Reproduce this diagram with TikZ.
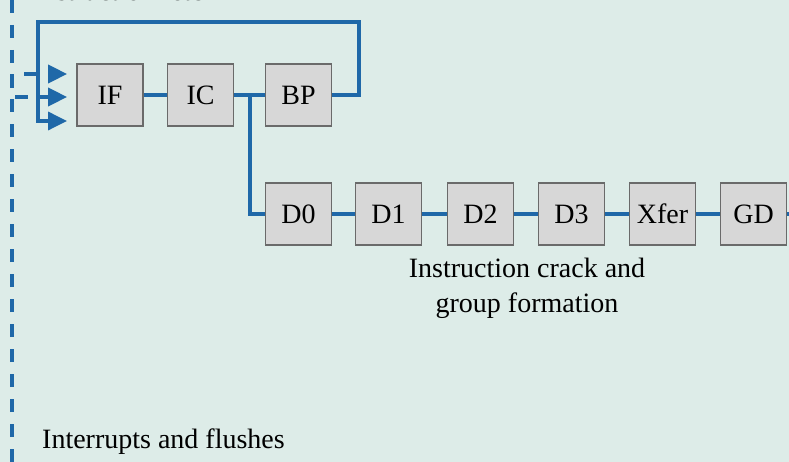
\documentclass[tikz,border=0pt]{standalone}
\usepackage{fontspec}
\setmainfont{Liberation Serif}
\usetikzlibrary{arrows.meta}
\definecolor{bgc}{HTML}{DDECE8}
\definecolor{boxfill}{HTML}{D7D7D7}
\definecolor{boxline}{HTML}{6A6A6A}
\definecolor{flow}{HTML}{1F68A8}
\begin{document}
\begin{tikzpicture}[x=1pt,y=-1pt,
  stage/.style={draw=boxline,line width=1.8pt,fill=boxfill,minimum width=66pt,minimum height=62pt,inner sep=0pt,font=\fontsize{28}{34}\selectfont},
  link/.style={draw=flow,line width=3.2pt},
  flush/.style={draw=flow,line width=3.8pt,dash pattern=on 13pt off 12pt},
  tip/.style={-{Triangle[length=19pt,width=18pt]}},
  lbl/.style={font=\fontsize{28}{35}\selectfont,inner sep=0pt}]
\fill[bgc] (0,0) rectangle (789,462);
\useasboundingbox (0,0) rectangle (789,462);
% top row
\node[stage] (IF) at (110,95) {IF};
\node[stage] (IC) at (200.5,95) {IC};
\node[stage] (BP) at (298.5,95) {BP};
% decode row
\node[stage] (D0) at (298.5,214) {D0};
\node[stage] (D1) at (388.5,214) {D1};
\node[stage] (D2) at (480.5,214) {D2};
\node[stage] (D3) at (571.5,214) {D3};
\node[stage] (XF) at (662.5,214) {Xfer};
\node[stage] (GD) at (753.5,214) {GD};
\coordinate (out) at (789,214);
% labels
\node[lbl,anchor=base west] (t1) at (33,0.5) {Instruction fetch};
\node[lbl,anchor=north,align=center] (t2) at (527,258) {Instruction crack and\\group formation};
\node[lbl,anchor=base west] (t3) at (42,448) {Interrupts and flushes};
% connectors
\draw[link] (IF) -- (IC);
\draw[link] (IC) -- (BP);
\coordinate (br) at (250,95);
\draw[link] (br) |- (D0);
\draw[link] (D0) -- (D1);
\draw[link] (D1) -- (D2);
\draw[link] (D2) -- (D3);
\draw[link] (D3) -- (XF);
\draw[link] (XF) -- (GD);
\draw[link] (GD) -- (out);
% loop back
\coordinate (lpA) at (359,22);
\coordinate (lpB) at (38,22);
\draw[link,tip] (BP.east) -| (lpA) -- (lpB) |- ([xshift=-9pt,yshift=-26pt]IF.west);
% flush lines
\coordinate (ftop) at (12,0);
\coordinate (fbot) at (12,462);
\draw[flush,tip] (ftop) |- ([xshift=-9pt,yshift=-2pt]IF.west);
\draw[flush,tip] (fbot) |- ([xshift=-9pt,yshift=21pt]IF.west);
\end{tikzpicture}
\end{document}
